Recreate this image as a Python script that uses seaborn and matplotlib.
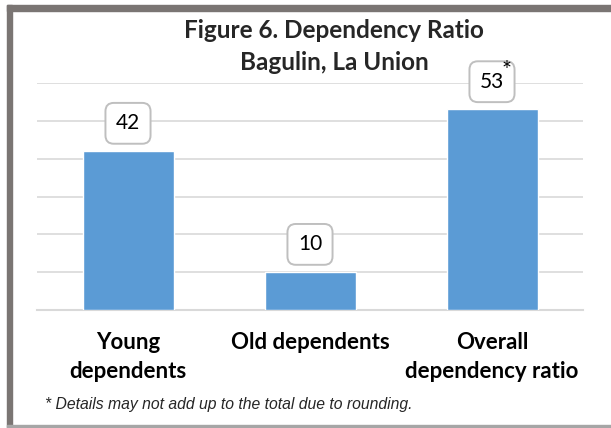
import matplotlib
matplotlib.use("Agg")
import matplotlib.pyplot as plt
import seaborn as sns
import pandas as pd
from matplotlib.patches import Rectangle

# Dati del grafico
categories = ["Young\ndependents", "Old dependents", "Overall\ndependency ratio"]
values = [42, 10, 53]
value_labels = ["42", "10", "53"]
title_lines = ["Figure 6. Dependency Ratio", "Bagulin, La Union"]
footnote = "* Details may not add up to the total due to rounding."

sns.set_theme(style="white")
plt.rcParams["font.family"] = ["Lato", "DejaVu Sans"]

df = pd.DataFrame({"category": categories, "value": values})

fig = plt.figure(figsize=(6.11, 4.28), dpi=100)
ax = fig.add_axes([37 / 611, 1 - 310 / 428, 546 / 611, 227 / 428])

sns.barplot(data=df, x="category", y="value", color="#5b9bd5", width=0.5,
            saturation=1, ax=ax, zorder=3)

ax.set_ylim(0, 60)
ax.set_yticks(range(0, 61, 10))
ax.set_yticklabels([])
ax.yaxis.grid(True, color="#d9d9d9", linewidth=1.2)
ax.set_axisbelow(True)
ax.set_xlabel("")
ax.set_ylabel("")
for side in ["top", "left", "right"]:
    ax.spines[side].set_visible(False)
ax.spines["bottom"].set_color("#d9d9d9")
ax.spines["bottom"].set_linewidth(1.5)
ax.tick_params(axis="both", length=0)
ax.tick_params(axis="x", pad=16)
ax.set_xticks(range(len(categories)))
ax.set_xticklabels(categories, fontsize=16, fontweight="bold", color="black",
                   linespacing=1.45, va="top")

# Etichette con riquadro arrotondato
for i, (v, lab) in enumerate(zip(values, value_labels)):
    ax.annotate(lab, xy=(i, v), xytext=(0, 20), textcoords="offset points",
                ha="center", va="center", fontsize=15, color="black",
                bbox=dict(boxstyle="round,pad=0.5,rounding_size=0.4",
                          fc="white", ec="#bfbfbf", lw=1.4), zorder=5)
ax.annotate("*", xy=(2, values[2]), xytext=(10.5, 28), textcoords="offset points",
            ha="center", va="center", fontsize=17, color="black", zorder=6)

# Titolo
fig.text(334 / 611, 1 - 30.5 / 428, title_lines[0], ha="center", va="center",
         fontsize=17.5, fontweight="bold")
fig.text(334 / 611, 1 - 62.5 / 428, title_lines[1], ha="center", va="center",
         fontsize=17.5, fontweight="bold")

# Nota a piè di pagina
fig.text(45 / 611, 1 - 405 / 428, footnote, ha="left", va="center",
         fontsize=11.3, style="italic", family=["Liberation Sans", "DejaVu Sans"])

# Cornice
fig.patches.append(Rectangle((7 / 611, 0), 5 / 611, 1 - 5 / 428,
                             transform=fig.transFigure, color="#7a7573", zorder=0))
fig.patches.append(Rectangle((7 / 611, 1 - 11 / 428), 1, 6 / 428,
                             transform=fig.transFigure, color="#7a7573", zorder=0))
fig.patches.append(Rectangle((7 / 611, 1 / 428), 1, 2 / 428,
                             transform=fig.transFigure, color="#a6a6a6", zorder=0))

fig.savefig("out.png", dpi=100)
